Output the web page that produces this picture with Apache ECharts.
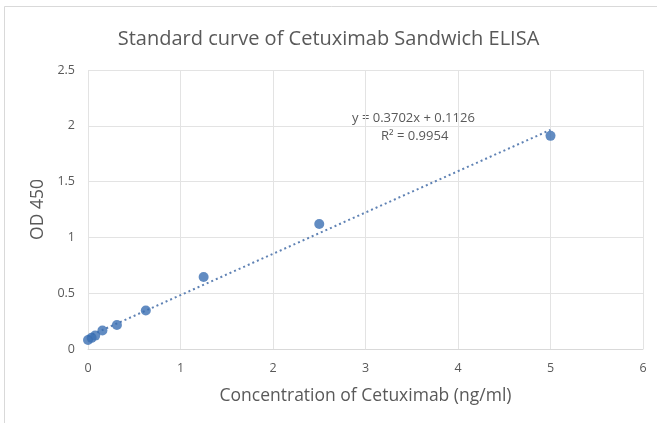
<!DOCTYPE html>
<html><head><meta charset="utf-8">
<script src="https://cdn.jsdelivr.net/npm/echarts@6/dist/echarts.min.js"></script>
<style>html,body{margin:0;padding:0;background:#fff}#c{width:657px;height:423px}</style>
</head><body><div id="c"></div>
<script>
const concentrations = [0, 0.039, 0.078, 0.156, 0.3125, 0.625, 1.25, 2.5, 5];
const odValues = [0.08, 0.10, 0.12, 0.165, 0.215, 0.345, 0.645, 1.12, 1.91];
const trendX = [0, 5];
const slope = 0.3702, intercept = 0.1126;
const xTicks = [0, 1, 2, 3, 4, 5, 6];
const yTicks = [0, 0.5, 1, 1.5, 2, 2.5];

const chart = echarts.init(document.getElementById('c'));
const font = '"Open Sans", "Liberation Sans", sans-serif';
chart.setOption({
  animation: false,
  backgroundColor: '#fff',
  title: {
    text: 'Standard curve of Cetuximab Sandwich ELISA',
    left: 'center', top: 24,
    textStyle: { fontFamily: font, fontSize: 20, fontWeight: 'normal', color: '#595959' }
  },
  grid: { left: 88, right: 14, top: 70, bottom: 74 },
  xAxis: {
    type: 'value', min: 0, max: 6, interval: 1,
    name: 'Concentration of Cetuximab (ng/ml)', nameLocation: 'middle', nameGap: 38,
    nameTextStyle: { fontFamily: font, fontSize: 17.5, color: '#595959' },
    axisLine: { show: true, lineStyle: { color: '#d9d9d9' } },
    axisTick: { show: false },
    axisLabel: { fontFamily: font, fontSize: 12.5, color: '#595959', margin: 13 },
    splitLine: { show: true, lineStyle: { color: '#e3e3e3' } }
  },
  yAxis: {
    type: 'value', min: 0, max: 2.5, interval: 0.5,
    name: 'OD 450', nameLocation: 'middle', nameGap: 40,
    nameTextStyle: { fontFamily: font, fontSize: 17.5, color: '#595959' },
    axisLine: { show: false },
    axisTick: { show: false },
    axisLabel: { fontFamily: font, fontSize: 12.5, color: '#595959', margin: 13 },
    splitLine: { show: true, lineStyle: { color: '#e3e3e3' } }
  },
  series: [
    {
      type: 'line',
      data: trendX.map(x => [x, slope * x + intercept]),
      symbol: 'none',
      lineStyle: { type: [2, 3], width: 2, color: '#5f82b4' },
      z: 2
    },
    {
      type: 'scatter',
      data: concentrations.map((c, i) => [c, odValues[i]]),
      symbolSize: 10,
      itemStyle: { color: '#3b6fb3' },
      z: 3
    }
  ],
  graphic: [
    { type: 'rect', shape: { x: 4.5, y: 6.5, width: 660, height: 430 },
      style: { fill: 'none', stroke: '#d9d9d9', lineWidth: 1 }, silent: true },
    { type: 'text', left: 352, top: 112,
      style: { text: 'y = 0.3702x + 0.1126', fontFamily: font, fontSize: 13, fill: '#595959' } },
    { type: 'text', left: 381, top: 130,
      style: { text: 'R² = 0.9954', fontFamily: font, fontSize: 13, fill: '#595959' } }
  ]
});
</script></body></html>
